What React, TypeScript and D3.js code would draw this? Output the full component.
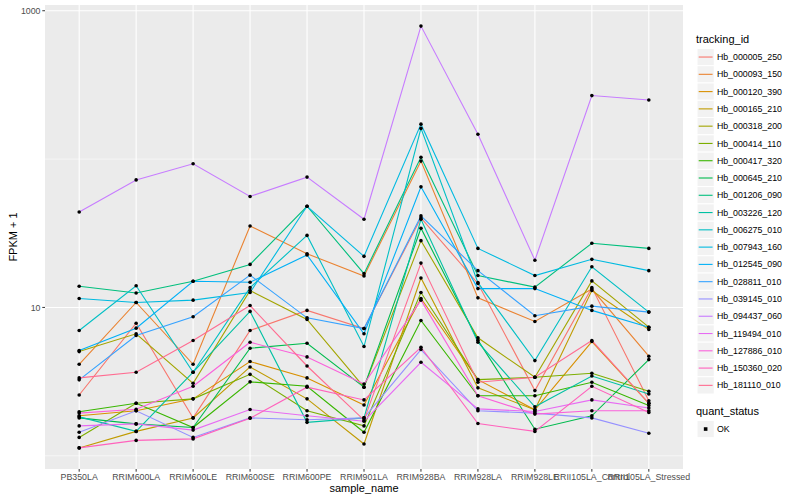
import * as d3 from 'd3';

// x categories
const sampleNames = [
  'PB350LA', 'RRIM600LA', 'RRIM600LE', 'RRIM600SE', 'RRIM600PE', 'RRIM901LA',
  'RRIM928BA', 'RRIM928LA', 'RRIM928LE', 'RRII105LA_Control', 'RRII105LA_Stressed',
];

const trackingIds = [
  'Hb_000005_250', 'Hb_000093_150', 'Hb_000120_390', 'Hb_000165_210', 'Hb_000318_200',
  'Hb_000414_110', 'Hb_000417_320', 'Hb_000645_210', 'Hb_001206_090', 'Hb_003226_120',
  'Hb_006275_010', 'Hb_007943_160', 'Hb_012545_090', 'Hb_028811_010', 'Hb_039145_010',
  'Hb_094437_060', 'Hb_119494_010', 'Hb_127886_010', 'Hb_150360_020', 'Hb_181110_010',
];

// ggplot default hue palette, 20 levels
const hueColors = [
  '#F8766D', '#EA8331', '#D89000', '#C09B00', '#A3A500', '#7CAE00', '#39B600', '#00BB4E',
  '#00BF7D', '#00C1A3', '#00BFC4', '#00BAE0', '#00B0F6', '#35A2FF', '#9590FF', '#C77CFF',
  '#E76BF3', '#FA62DB', '#FF62BC', '#FF6C91',
];

// FPKM + 1, one array per tracking_id, in sampleNames order
const hb000005 = [2.57, 7.83, 1.8, 6.99, 9.55, 7.21, 40.1, 14.5, 2.75, 13.6, 2.35];
const hb000093 = [4.14, 10.8, 4.14, 35.4, 23.0, 16.3, 96.9, 11.6, 8.04, 13.3, 4.69];
const hb000120 = [1.86, 2.01, 2.42, 4.32, 3.35, 2.2, 11.5, 3.26, 2.04, 5.89, 2.26];
const hb000165 = [1.13, 1.46, 1.8, 3.97, 2.42, 1.2, 15.8, 2.87, 2.04, 13.0, 7.1];
const hb000318 = [5.04, 6.64, 3.08, 13.0, 8.3, 2.9, 28.2, 6.24, 3.38, 15.1, 7.36];
const hb000414 = [1.33, 2.26, 2.42, 3.54, 2.01, 1.59, 12.6, 3.26, 3.38, 3.6, 2.72];
const hb000417 = [1.98, 2.26, 1.55, 3.15, 2.94, 1.44, 8.17, 2.54, 2.54, 3.13, 2.18];
const hb000645 = [1.8, 1.64, 1.55, 5.31, 5.74, 2.9, 34.2, 6.02, 1.51, 1.86, 4.45];
const hb001206 = [13.9, 12.5, 15.0, 19.5, 48.1, 16.9, 103, 16.4, 13.7, 27.1, 25.0];
const hb003226 = [1.83, 1.46, 3.66, 9.4, 1.68, 1.8, 39.3, 5.83, 2.14, 3.45, 2.61];
const hb006275 = [6.99, 14.0, 3.66, 13.6, 30.6, 5.45, 161, 14.7, 4.38, 18.8, 9.3];
const hb007943 = [11.5, 10.8, 11.2, 12.6, 48.1, 22.1, 172, 25.0, 16.4, 21.1, 17.7];
const hb012545 = [5.12, 7.25, 15.0, 14.8, 22.6, 6.64, 65.0, 13.4, 13.4, 9.55, 7.36];
const hb028811 = [3.25, 6.47, 8.65, 16.5, 8.51, 7.21, 41.4, 17.7, 8.79, 10.2, 9.3];
const hb039145 = [1.44, 2.01, 1.33, 1.8, 1.75, 1.8, 5.2, 2.01, 1.94, 1.8, 1.42];
const hb094437 = [44, 72.4, 93, 56, 75.6, 39.3, 788, 147, 20.8, 268, 250];
const hb119494 = [1.59, 1.64, 1.49, 2.05, 1.86, 1.71, 4.27, 2.07, 1.99, 2.38, 2.1];
const hb127886 = [1.94, 2.06, 2.94, 5.83, 4.64, 3.05, 11.2, 2.54, 1.91, 2.01, 2.01];
const hb150360 = [1.13, 1.27, 1.3, 1.79, 2.9, 2.38, 5.39, 1.65, 1.46, 2.94, 1.96];
const hb181110 = [3.35, 3.66, 5.98, 10.3, 4.03, 1.74, 19.9, 3.13, 3.38, 5.98, 2.26];

const seriesValues = [
  hb000005, hb000093, hb000120, hb000165, hb000318, hb000414, hb000417, hb000645,
  hb001206, hb003226, hb006275, hb007943, hb012545, hb028811, hb039145, hb094437,
  hb119494, hb127886, hb150360, hb181110,
];

const yMajor = [10, 1000];
const yMinor = [1, 100];

const W = 800;
const H = 500;
const panel = { left: 45, right: 683, top: 5, bottom: 469 };
const font = '"Liberation Sans", Arial, Helvetica, sans-serif';

export default function App() {
  const x = d3.scalePoint<string>()
    .domain(sampleNames)
    .range([panel.left, panel.right])
    .padding(0.6);

  const all = seriesValues.flat();
  const lo = Math.log10(d3.min(all) as number);
  const hi = Math.log10(d3.max(all) as number);
  const pad = (hi - lo) * 0.05;
  const y = d3.scaleLog()
    .domain([10 ** (lo - pad), 10 ** (hi + pad)])
    .range([panel.bottom, panel.top]);

  const line = d3.line<number>()
    .x((_, i) => x(sampleNames[i]) as number)
    .y((d) => y(d));

  const keySize = 17.28;
  const legendX = 697;
  const keysTop = 48.4;

  return (
    <svg
      width={W}
      height={H}
      style={{ position: 'absolute', left: 0, top: 0, background: '#fff' }}
      fontFamily={font}
    >
      {/* panel */}
      <rect
        x={panel.left}
        y={panel.top}
        width={panel.right - panel.left}
        height={panel.bottom - panel.top}
        fill="#EBEBEB"
      />
      {yMinor.map((v) => (
        <line key={'mn' + v} x1={panel.left} x2={panel.right} y1={y(v)} y2={y(v)}
          stroke="#fff" strokeWidth={0.55} />
      ))}
      {yMajor.map((v) => (
        <line key={'mj' + v} x1={panel.left} x2={panel.right} y1={y(v)} y2={y(v)}
          stroke="#fff" strokeWidth={1.1} />
      ))}
      {sampleNames.map((s) => (
        <line key={'vx' + s} x1={x(s)} x2={x(s)} y1={panel.top} y2={panel.bottom}
          stroke="#fff" strokeWidth={1.1} />
      ))}

      {/* lines */}
      {seriesValues.map((vals, i) => (
        <path key={'l' + i} d={line(vals) || ''} fill="none" stroke={hueColors[i]} strokeWidth={1.1} />
      ))}
      {/* points */}
      {seriesValues.map((vals, i) =>
        vals.map((v, j) => (
          <circle key={`p${i}-${j}`} cx={x(sampleNames[j])} cy={y(v)} r={1.8} fill="#000" />
        )),
      )}

      {/* y axis */}
      {yMajor.map((v) => (
        <g key={'yt' + v}>
          <line x1={panel.left - 2.7} x2={panel.left} y1={y(v)} y2={y(v)} stroke="#333" strokeWidth={1} />
          <text x={panel.left - 4.5} y={y(v)} dy="0.35em" textAnchor="end" fontSize={8.8} fill="#4D4D4D">
            {v}
          </text>
        </g>
      ))}
      <text
        transform={`translate(16.5,${(panel.top + panel.bottom) / 2}) rotate(-90)`}
        textAnchor="middle"
        fontSize={11}
        fill="#000"
      >
        FPKM + 1
      </text>

      {/* x axis */}
      {sampleNames.map((s) => (
        <g key={'xt' + s}>
          <line x1={x(s)} x2={x(s)} y1={panel.bottom} y2={panel.bottom + 2.7} stroke="#333" strokeWidth={1} />
          <text x={x(s)} y={panel.bottom + 11} textAnchor="middle" fontSize={8.8} fill="#4D4D4D">
            {s}
          </text>
        </g>
      ))}
      <text x={(panel.left + panel.right) / 2} y={492} textAnchor="middle" fontSize={11} fill="#000">
        sample_name
      </text>

      {/* legend: tracking_id */}
      <text x={legendX - 1} y={43} fontSize={11} fill="#000">tracking_id</text>
      {trackingIds.map((id, i) => {
        const ky = keysTop + i * keySize;
        return (
          <g key={id}>
            <rect x={legendX} y={ky} width={keySize} height={keySize} fill="#F2F2F2" stroke="#fff" strokeWidth={1} />
            <line x1={legendX + 1.7} x2={legendX + keySize - 1.7} y1={ky + keySize / 2} y2={ky + keySize / 2}
              stroke={hueColors[i]} strokeWidth={1.1} />
            <text x={legendX + keySize + 2.6} y={ky + keySize / 2} dy="0.35em" fontSize={8.8} fill="#000">
              {id}
            </text>
          </g>
        );
      })}

      {/* legend: quant_status */}
      <text x={legendX - 1} y={415} fontSize={11} fill="#000">quant_status</text>
      <rect x={legendX} y={420.4} width={keySize} height={keySize} fill="#F2F2F2" stroke="#fff" strokeWidth={1} />
      <rect x={legendX + keySize / 2 - 1.8} y={420.4 + keySize / 2 - 1.8} width={3.6} height={3.6} fill="#000" />
      <text x={legendX + keySize + 2.6} y={420.4 + keySize / 2} dy="0.35em" fontSize={8.8} fill="#000">
        OK
      </text>
    </svg>
  );
}
